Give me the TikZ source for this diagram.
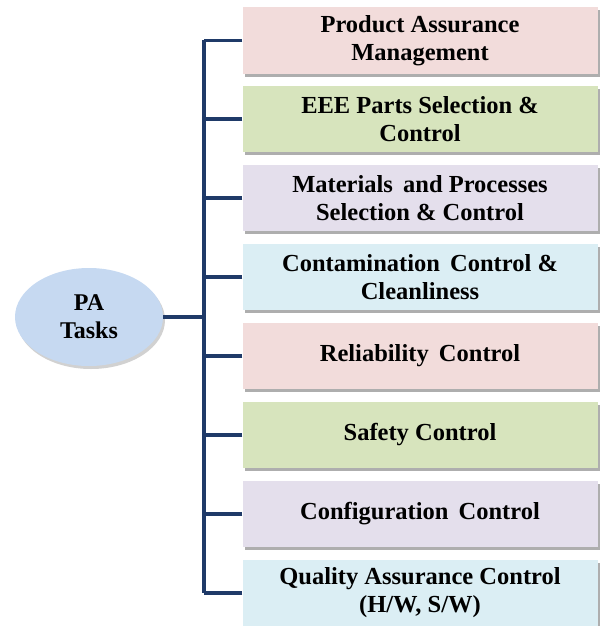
\documentclass[tikz,border=0pt]{standalone}
\usepackage{fontspec}
\setmainfont{Liberation Serif}
\usetikzlibrary{shadows,shapes.geometric}
\definecolor{pinkbox}{HTML}{F2DCDB}
\definecolor{greenbox}{HTML}{D7E4BD}
\definecolor{purplebox}{HTML}{E4DFEC}
\definecolor{bluebox}{HTML}{DBEEF4}
\definecolor{ellfill}{HTML}{C6D9F1}
\definecolor{linecol}{HTML}{1F3A68}
\begin{document}
\begin{tikzpicture}[x=1pt,y=-1pt,
  task/.style={minimum width=355pt, minimum height=66pt, inner sep=0pt, align=center,
    font=\fontsize{24.5}{28}\selectfont\bfseries,
    drop shadow={shadow xshift=2.5pt, shadow yshift=-3pt, fill=black!45, opacity=0.7}},
  conn/.style={draw=linecol, line width=3.2pt}]
\node[task, fill=pinkbox]   (t1) at (420,40.5)  {Product Assurance\\Management};
\node[task, fill=greenbox]  (t2) at (420,119)   {EEE Parts Selection \&\\Control};
\node[task, fill=purplebox] (t3) at (420,198)   {Materials\, and Processes\\Selection \& Control};
\node[task, fill=bluebox]   (t4) at (420,277)   {Contamination\, Control \&\\Cleanliness};
\node[task, fill=pinkbox]   (t5) at (420,356)   {Reliability\, Control};
\node[task, fill=greenbox]  (t6) at (420,435)   {Safety Control};
\node[task, fill=purplebox] (t7) at (420,514)   {Configuration\, Control};
\node[task, fill=bluebox]   (t8) at (420,593)   {Quality Assurance Control\\(H/W, S/W)};
\node[ellipse, fill=ellfill, minimum width=148pt, minimum height=98pt, inner sep=0pt, align=center,
  font=\fontsize{24}{28}\selectfont\bfseries,
  drop shadow={shadow xshift=2pt, shadow yshift=-3pt, fill=black!30, opacity=0.6}] (pa) at (89,317) {PA\\Tasks};
\coordinate (top) at (204,40.5);
\coordinate (bot) at (204,593);
\draw[conn] (top) -- (bot);
\foreach \i in {1,...,8}{
  \draw[conn] (t\i.west) -- (t\i.west -| top);
}
\draw[conn] (pa.east) -- (pa.east -| top);
\pgfresetboundingbox
\useasboundingbox (0,0) rectangle (601,626);
\end{tikzpicture}
\end{document}
